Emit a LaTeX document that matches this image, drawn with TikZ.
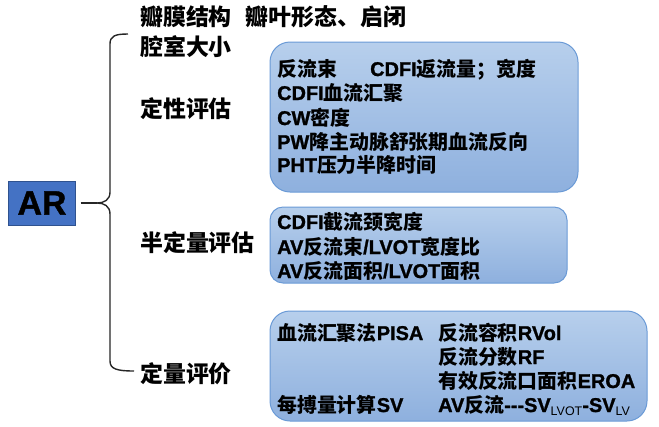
\documentclass[tikz,border=0pt]{standalone}
\usepackage{fontspec}
\setmainfont{Liberation Sans}[BoldFont={Liberation Sans Bold}, BoldFeatures={FakeBold=1.2}]
\newfontfamily\cjk{Noto Sans CJK SC}
\newcommand\zh[1]{{\cjk\bfseries #1}}
\newcommand\subs[1]{\raisebox{-3.5bp}{\fontsize{12.5}{13}\selectfont\mdseries #1}}
\definecolor{arfill}{HTML}{4472C4}
\definecolor{arline}{HTML}{2F528F}
\definecolor{boxtop}{HTML}{B7CFEC}
\definecolor{boxbot}{HTML}{8EB0DE}
\definecolor{boxline}{HTML}{6A9AD6}
\tikzset{
  infobox/.style={draw=boxline, line width=1bp, top color=boxtop, bottom color=boxbot, rounded corners=20bp},
  biglabel/.style={anchor=base west, inner sep=0pt, font=\bfseries\fontsize{23}{26}\selectfont},
  boxtext/.style={anchor=base west, inner sep=0pt, font=\bfseries\fontsize{20}{24}\selectfont},
  bracket/.style={draw=black!85, line width=1.4bp},
}
\begin{document}
\begin{tikzpicture}[x=1bp,y=-1bp]
\useasboundingbox (0,0) rectangle (659,426);
% AR
\node[draw=arline, fill=arfill, line width=1bp, minimum width=66bp, minimum height=44bp, inner sep=0pt,
      font=\bfseries\fontsize{34}{36}\selectfont] (ar) at (42,203) {AR};
% brace
\coordinate (tip) at (97,203);
\coordinate (btop) at (128,34);
\coordinate (bbot) at (134,371);
\draw[bracket, shorten <=5bp] (ar.east) -- (tip);
\draw[bracket] (btop) .. controls (115,34) and (110,36) .. (110,44) -- (110,192)
   .. controls (110,200) and (104,203) .. (tip)
   .. controls (104,203) and (110,206) .. (110,214) -- (110,361)
   .. controls (110,369) and (117,371) .. (bbot);
% labels
\node[biglabel] (l0) at (140,25) {\zh{瓣膜结构}\hspace{14bp}\zh{瓣叶形态、启闭}};
\node[biglabel] (l1) at (140,55) {\zh{腔室大小}};
\node[biglabel] (l2) at (140,117) {\zh{定性评估}};
\node[biglabel] (l3) at (140,251) {\zh{半定量评估}};
\node[biglabel] (l4) at (140,382) {\zh{定量评价}};
% boxes
\draw[infobox] (270,42) rectangle (578,192);
\draw[infobox, rounded corners=13bp] (270,207) rectangle (567,283);
\draw[infobox] (270,311) rectangle (647,421);
% box 1
\node[boxtext] (a1) at (277,76) {\zh{反流束}};
\node[boxtext] (a1b) at (370,76) {CDFI\zh{返流量；宽度}};
\node[boxtext] (a2) at (277,100) {CDFI\zh{血流汇聚}};
\node[boxtext] (a3) at (277,125) {CW\zh{密度}};
\node[boxtext] (a4) at (277,149) {PW\zh{降主动脉舒张期血流反向}};
\node[boxtext] (a5) at (277,172) {PHT\zh{压力半降时间}};
% box 2
\node[boxtext] (b1) at (277,229) {CDFI\zh{截流颈宽度}};
\node[boxtext] (b2) at (277,254) {AV\zh{反流束}/LVOT\zh{宽度比}};
\node[boxtext] (b3) at (277,278) {AV\zh{反流面积}/LVOT\zh{面积}};
% box 3
\node[boxtext] (c1) at (277,340) {\zh{血流汇聚法}PISA};
\node[boxtext] (c1b) at (438,340) {\zh{反流容积}RVol};
\node[boxtext] (c2) at (438,364) {\zh{反流分数}RF};
\node[boxtext] (c3) at (438,388) {\zh{有效反流口面积}EROA};
\node[boxtext] (c4) at (277,412) {\zh{每搏量计算}SV};
\node[boxtext] (c4b) at (438,412) {AV\zh{反流}-\kern0pt-\kern0pt-SV\subs{LVOT}-SV\subs{LV}};
\end{tikzpicture}
\end{document}
